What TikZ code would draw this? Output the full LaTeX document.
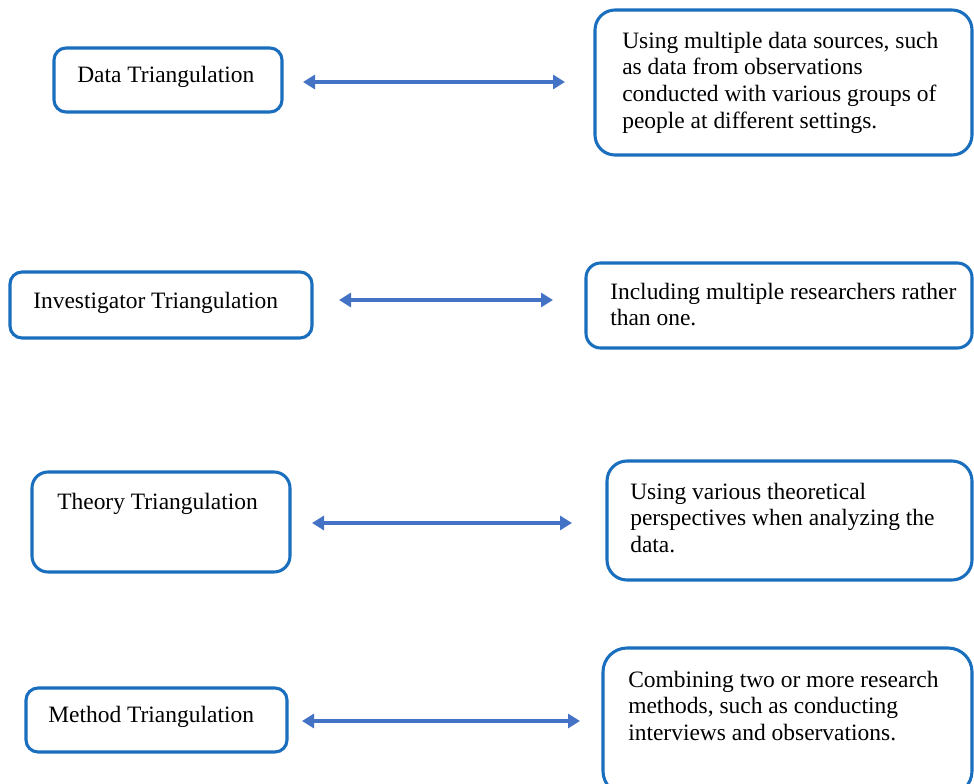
\documentclass[tikz,border=0pt]{standalone}
\usepackage{fontspec}
\setmainfont{Liberation Serif}
\usetikzlibrary{arrows.meta}
\definecolor{boxblue}{RGB}{25,110,190}
\definecolor{arrowblue}{RGB}{68,114,196}
\begin{document}
\begin{tikzpicture}[x=0.75pt,y=-0.75pt,
  box/.style={draw=boxblue, line width=2.3pt, rounded corners=#1, inner sep=0pt, fill=white},
  box/.default=9pt,
  txt/.style={anchor=north west, inner sep=0pt, align=left, font=\fontsize{17.6}{20}\selectfont},
  link/.style={draw=arrowblue, line width=2.6pt, {Triangle[length=9pt,width=10.5pt]}-{Triangle[length=9pt,width=10.5pt]}}]
\clip (0,0) rectangle (974,784);
\useasboundingbox (0,0) rectangle (974,784);

% boxes
\node[box=9pt,  minimum width=171pt,    minimum height=48pt]    (dbox) at (168,80) {};
\node[box=15pt, minimum width=282.75pt, minimum height=108.75pt] (dexp) at (783.5,82.5) {};
\node[box=9pt,  minimum width=226.5pt,  minimum height=49.5pt]  (ibox) at (161,305) {};
\node[box=11pt, minimum width=289.5pt,  minimum height=63.75pt] (iexp) at (779,305.5) {};
\node[box=12pt, minimum width=193.5pt,  minimum height=75pt]    (tbox) at (161,522) {};
\node[box=15pt, minimum width=273.75pt, minimum height=89.25pt] (texp) at (789.5,520.5) {};
\node[box=9pt,  minimum width=195.75pt, minimum height=48pt]    (mbox) at (156.5,720) {};
\node[box=18pt, minimum width=276.75pt, minimum height=110.25pt] (mexp) at (787.5,721.5) {};

% texts
\node[txt] (dtxt) at (77,63.3) {\strut Data Triangulation};
\node[txt] (dexptxt) at (622,29.3) {\strut Using multiple data sources, such\\as data from observations\\conducted with various groups of\\people at different settings.};
\node[txt] (itxt) at (33,289.3) {\strut Investigator Triangulation};
\node[txt] (iexptxt) at (610,280.3) {\strut Including multiple researchers rather\\than one.};
\node[txt] (ttxt) at (57,490.3) {\strut Theory Triangulation};
\node[txt] (texptxt) at (630,480.3) {\strut Using various theoretical\\perspectives when analyzing the\\data.};
\node[txt] (mtxt) at (48,703.3) {\strut Method Triangulation};
\node[txt] (mexptxt) at (628,668.3) {\strut Combining two or more research\\methods, such as conducting\\interviews and observations.};

% arrows
\coordinate (a1l) at (303,82);  \coordinate (a1r) at (565,82);
\coordinate (a2l) at (339,300); \coordinate (a2r) at (553,300);
\coordinate (a3l) at (312,523); \coordinate (a3r) at (572,523);
\coordinate (a4l) at (302,721); \coordinate (a4r) at (580,721);
\draw[link] (a1l) -- (a1r);
\draw[link] (a2l) -- (a2r);
\draw[link] (a3l) -- (a3r);
\draw[link] (a4l) -- (a4r);
\end{tikzpicture}
\end{document}
